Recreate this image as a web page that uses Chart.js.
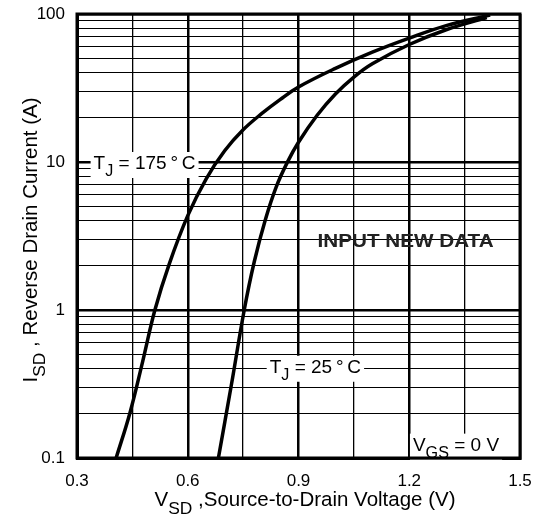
<!DOCTYPE html>
<html>
<head>
<meta charset="utf-8">
<script src="https://cdn.jsdelivr.net/npm/chart.js@4.4.0/dist/chart.umd.min.js"></script>
<style>
  html, body { margin: 0; padding: 0; background: #fff; }
  #wrap { width: 535px; height: 521px; }
</style>
</head>
<body>
<div id="wrap"><canvas id="chart"></canvas></div>
<script>
// values
const vsd25  = [0.683, 0.718, 0.753, 0.780, 0.810, 0.840, 0.870, 0.900, 0.950, 1.000, 1.050, 1.100, 1.200, 1.300, 1.410];
const isd25  = [0.1,   0.31,  1,     2.11,  4.06,  6.82,  9.98,  13.6,  20.6,  28.8,  37.5,  46.1,  62.2,  78.3,  94.7];
const vsd175 = [0.406, 0.443, 0.478, 0.511, 0.550, 0.600, 0.650, 0.700, 0.750, 0.800, 0.850, 0.900, 1.000, 1.100, 1.200, 1.300, 1.419];
const isd175 = [0.1,   0.2,   0.45,  1,     2.05,  4.34,  7.7,   11.9,  16.5,  21.2,  26.4,  32.1,  42.9,  55.2,  68.7,  83.5,  98.5];

const xGrid   = [0.3, 0.45, 0.6, 0.75, 0.9, 1.05, 1.2, 1.35, 1.5];
const xLabels = [0.3, 0.6, 0.9, 1.2, 1.5];
const yDecades = [0.1, 1, 10, 100];

const FONT = '"Liberation Sans", Arial, sans-serif';

// 1..9 lines inside every decade
const yGrid = [];
yDecades.forEach((d, i) => {
    if (i === yDecades.length - 1) { yGrid.push(d); return; }
    for (let m = 1; m <= 9; m++) yGrid.push(+(d * m).toPrecision(3));
});

const isDecade = v => yDecades.some(d => Math.abs(d - v) < 1e-9);
const isXLabel = v => xLabels.some(d => Math.abs(d - v) < 1e-9);

const toPoints = (xs, ys) => xs.map((x, i) => ({ x: x, y: ys[i] }));

// text with subscripts: parts = [[text, isSub], ...]
function partsWidth(ctx, parts, size) {
    let w = 0;
    parts.forEach(p => {
        ctx.font = (p[1] ? size * 0.85 : size) + 'px ' + FONT;
        w += ctx.measureText(p[0]).width;
    });
    return w;
}
function drawParts(ctx, parts, x, y, size) {
    parts.forEach(p => {
        ctx.font = (p[1] ? size * 0.85 : size) + 'px ' + FONT;
        ctx.fillText(p[0], x, p[1] ? y + size * 0.38 : y);
        x += ctx.measureText(p[0]).width;
    });
}

const labels = [
    { x: 0.345, y: 10, parts: [['T', false], ['J', true], [' = 175\u2009°\u2009C', false]] },
    { x: 0.822, y: 0.42, parts: [['T', false], ['J', true], [' = 25\u2009°\u2009C', false]] },
    { x: 1.21, y: 0.125, parts: [['V', false], ['GS', true], [' = 0 V', false]] }
];

const overlay = {
    id: 'overlay',
    afterDatasetsDraw(chart) {
        const ctx = chart.ctx;
        const xs = chart.scales.x, ys = chart.scales.y;
        const a = chart.chartArea;
        ctx.save();
        ctx.textBaseline = 'alphabetic';

        labels.forEach(l => {
            const px = xs.getPixelForValue(l.x);
            const py = ys.getPixelForValue(l.y);
            const w = partsWidth(ctx, l.parts, 19);
            ctx.fillStyle = '#fff';
            ctx.fillRect(px - 3, py - 10, w + 6, 26);
            ctx.fillStyle = '#000';
            drawParts(ctx, l.parts, px, py + 7, 19);
        });

        // watermark, squeezed like the original
        ctx.save();
        ctx.font = 'bold 18px ' + FONT;
        ctx.fillStyle = '#222';
        ctx.textAlign = 'center';
        const wx = xs.getPixelForValue(1.19), wy = ys.getPixelForValue(2.97);
        const ww = ctx.measureText('INPUT NEW DATA').width;
        ctx.translate(wx, wy + 7);
        ctx.scale(176 / ww, 1);
        ctx.fillText('INPUT NEW DATA', 0, 0);
        ctx.restore();

        // frame
        ctx.strokeStyle = '#000';
        ctx.lineWidth = 3;
        ctx.strokeRect(a.left, a.top, a.right - a.left, a.bottom - a.top);

        // axis titles
        ctx.fillStyle = '#000';
        ctx.textAlign = 'left';
        const xt = [['V', false], ['SD', true], [' ,Source-to-Drain Voltage (V)', false]];
        const xw = partsWidth(ctx, xt, 20.5);
        drawParts(ctx, xt, 305 - xw / 2, 506, 20.5);

        const yt = [['I', false], ['SD', true], [' , Reverse Drain Current (A)', false]];
        const yw = partsWidth(ctx, yt, 20.5);
        ctx.translate(37, 240);
        ctx.rotate(-Math.PI / 2);
        drawParts(ctx, yt, -yw / 2, 0, 20.5);
        ctx.restore();
    }
};

const lineStyle = {
    borderColor: '#000',
    borderWidth: 3.5,
    pointRadius: 0,
    fill: false,
    tension: 0.4
};

new Chart(document.getElementById('chart').getContext('2d'), {
    type: 'line',
    data: {
        datasets: [
            Object.assign({ label: 'TJ = 175 °C', data: toPoints(vsd175, isd175) }, lineStyle),
            Object.assign({ label: 'TJ = 25 °C', data: toPoints(vsd25, isd25) }, lineStyle)
        ]
    },
    options: {
        responsive: true,
        maintainAspectRatio: false,
        animation: false,
        layout: { padding: { top: 14, right: 15, left: 0, bottom: 0 } },
        plugins: { legend: { display: false }, tooltip: { enabled: false } },
        scales: {
            x: {
                type: 'linear',
                min: 0.3,
                max: 1.5,
                afterBuildTicks: s => { s.ticks = xGrid.map(v => ({ value: v })); },
                afterFit: s => { s.height = 63; },
                ticks: {
                    autoSkip: false,
                    maxRotation: 0,
                    padding: 0,
                    color: '#000',
                    font: { family: FONT, size: 17 },
                    callback: v => isXLabel(v) ? v.toFixed(1) : ''
                },
                grid: {
                    color: '#000',
                    drawTicks: true,
                    tickLength: 13,
                    tickColor: 'rgba(0,0,0,0)',
                    lineWidth: c => (c.tick && isXLabel(c.tick.value)) ? 2.5 : 1.3
                },
                border: { color: '#000', width: 3 }
            },
            y: {
                type: 'logarithmic',
                min: 0.1,
                max: 100,
                afterBuildTicks: s => { s.ticks = yGrid.map(v => ({ value: v })); },
                afterFit: s => { s.width = 77; },
                ticks: {
                    autoSkip: false,
                    padding: 0,
                    color: '#000',
                    font: { family: FONT, size: 17 },
                    callback: v => isDecade(v) ? String(v) : ''
                },
                grid: {
                    color: '#000',
                    drawTicks: true,
                    tickLength: 12,
                    tickColor: 'rgba(0,0,0,0)',
                    lineWidth: c => (c.tick && isDecade(c.tick.value)) ? 2.5 : 1
                },
                border: { color: '#000', width: 3 }
            }
        }
    },
    plugins: [overlay]
});
</script>
</body>
</html>
